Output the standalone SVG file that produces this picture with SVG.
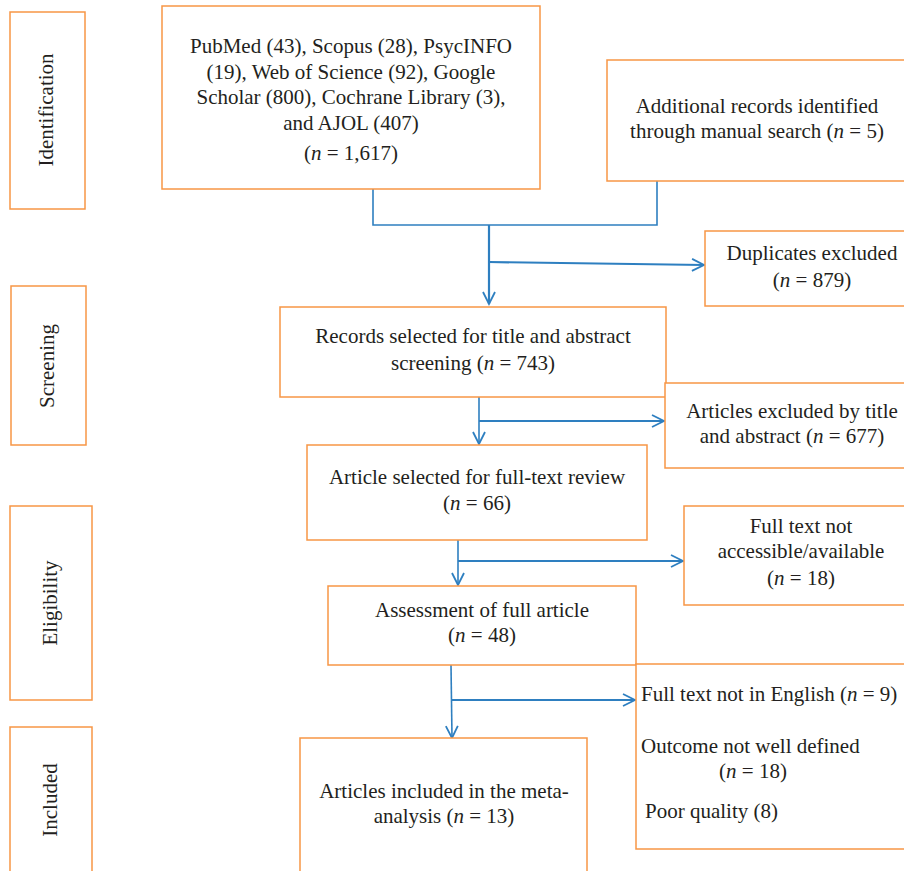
<svg xmlns="http://www.w3.org/2000/svg" width="904" height="871" viewBox="0 0 904 871">
<style>
.box{fill:#fff;stroke:#F79646;stroke-width:1.5}
.t{font-family:"Liberation Serif","Times New Roman",serif;font-size:21px;fill:#231F20;text-anchor:middle}
.l{text-anchor:start}
.i{font-style:italic}
.c{fill:none;stroke:#2E7FC0;stroke-width:1.6}
.ct{fill:none;stroke:#2E7FC0;stroke-width:2.2}
</style>
<defs>
<marker id="ah" markerWidth="16" markerHeight="16" refX="13" refY="7" orient="auto" markerUnits="userSpaceOnUse">
<path d="M1,1 L13,7 L1,13" fill="none" stroke="#2E7FC0" stroke-width="1.8"/>
</marker>
</defs>
<rect width="904" height="871" fill="#fff"/>

<g id="stage-identification">
<rect class="box" x="10" y="12" width="75" height="197"/>
<text class="t" transform="translate(53,110) rotate(-90)">Identification</text>
</g>
<g id="stage-screening">
<rect class="box" x="11" y="286" width="75" height="159"/>
<text class="t" transform="translate(54,366) rotate(-90)">Screening</text>
</g>
<g id="stage-eligibility">
<rect class="box" x="10" y="506" width="82" height="194"/>
<text class="t" transform="translate(57,603) rotate(-90)">Eligibility</text>
</g>
<g id="stage-included">
<rect class="box" x="10" y="727" width="82" height="160"/>
<text class="t" transform="translate(57,800) rotate(-90)">Included</text>
</g>

<g id="connectors">
<path class="c" d="M373,189 V225 H657 V181"/>
<path class="ct" d="M489,225 V304" marker-end="url(#ah)"/>
<path class="ct" d="M489,262 L704,265" marker-end="url(#ah)"/>
<path class="c" d="M479,397 V444" marker-end="url(#ah)"/>
<path class="ct" d="M479,421 H664" marker-end="url(#ah)"/>
<path class="c" d="M458,540 V585" marker-end="url(#ah)"/>
<path class="ct" d="M458,561 H683" marker-end="url(#ah)"/>
<path class="c" d="M451,665 L452,738" marker-end="url(#ah)"/>
<path class="ct" d="M452,700 H635" marker-end="url(#ah)"/>
</g>

<g id="sources">
<rect class="box" x="162" y="6" width="378" height="183"/>
<text class="t" x="351" y="53">PubMed (43), Scopus (28), PsycINFO</text>
<text class="t" x="351" y="79">(19), Web of Science (92), Google</text>
<text class="t" x="351" y="104">Scholar (800), Cochrane Library (3),</text>
<text class="t" x="351" y="130">and AJOL (407)</text>
<text class="t" x="351" y="160">(<tspan class="i">n</tspan> = 1,617)</text>
</g>
<g id="manual">
<rect class="box" x="607" y="60" width="310" height="121"/>
<text class="t" x="757" y="113">Additional records identified</text>
<text class="t" x="757" y="138">through manual search (<tspan class="i">n</tspan> = 5)</text>
</g>
<g id="duplicates">
<rect class="box" x="705" y="231" width="210" height="75"/>
<text class="t" x="812" y="260">Duplicates excluded</text>
<text class="t" x="812" y="287">(<tspan class="i">n</tspan> = 879)</text>
</g>
<g id="records">
<rect class="box" x="280" y="307" width="386" height="90"/>
<text class="t" x="473" y="343">Records selected for title and abstract</text>
<text class="t" x="473" y="370">screening (<tspan class="i">n</tspan> = 743)</text>
</g>
<g id="excluded-title">
<rect class="box" x="665" y="383" width="250" height="85"/>
<text class="t" x="792" y="418">Articles excluded by title</text>
<text class="t" x="792" y="443">and abstract (<tspan class="i">n</tspan> = 677)</text>
</g>
<g id="fulltext">
<rect class="box" x="307" y="445" width="340" height="95"/>
<text class="t" x="477" y="484">Article selected for full-text review</text>
<text class="t" x="477" y="510">(<tspan class="i">n</tspan> = 66)</text>
</g>
<g id="not-accessible">
<rect class="box" x="684" y="506" width="230" height="99"/>
<text class="t" x="801" y="533">Full text not</text>
<text class="t" x="801" y="558">accessible/available</text>
<text class="t" x="801" y="585">(<tspan class="i">n</tspan> = 18)</text>
</g>
<g id="assessment">
<rect class="box" x="328" y="586" width="308" height="79"/>
<text class="t" x="482" y="617">Assessment of full article</text>
<text class="t" x="482" y="642">(<tspan class="i">n</tspan> = 48)</text>
</g>
<g id="excluded-full">
<rect class="box" x="636" y="664" width="280" height="185"/>
<text class="t l" x="641" y="701">Full text not in English (<tspan class="i">n</tspan> = 9)</text>
<text class="t l" x="641" y="753">Outcome not well defined</text>
<text class="t" x="753" y="778">(<tspan class="i">n</tspan> = 18)</text>
<text class="t l" x="645" y="818">Poor quality (8)</text>
</g>
<g id="included">
<rect class="box" x="300" y="738" width="287" height="150"/>
<text class="t" x="444" y="798">Articles included in the meta-</text>
<text class="t" x="444" y="823">analysis (<tspan class="i">n</tspan> = 13)</text>
</g>
</svg>
